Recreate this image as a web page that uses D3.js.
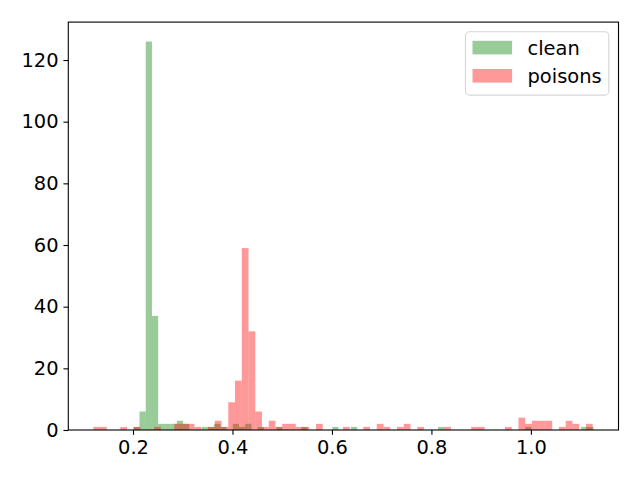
<!DOCTYPE html>
<html>
<head>
<meta charset="utf-8">
<script src="https://cdn.jsdelivr.net/npm/d3@7"></script>
<style>
  html, body { margin: 0; padding: 0; background: #fff; }
  svg { display: block; font-family: "DejaVu Sans", sans-serif; }
</style>
</head>
<body>
<svg id="chart" width="640" height="480"></svg>
<script>
// --- Données : deux histogrammes, chacun avec sa propre grille de bins ---
const seriesNames = ['clean', 'poisons']

const cleanStart = 0.2006
const cleanBinWidth = 0.012503
const cleanCounts = [
    1, 6, 126, 37, 2, 2, 2, 3, 2, 0,
    0, 1, 1, 2, 1, 0, 2, 1, 2, 0,
    1, 0, 0, 1, 0, 0, 0, 1, 0, 0,
    0, 0, 1, 0, 0, 1, 0, 0, 0, 0,
    0, 0, 0, 0, 0, 0, 0, 0, 0, 1,
    0, 0, 0, 0, 0, 0, 0, 0, 0, 0,
    0, 0, 0, 1, 0, 0, 0, 0, 0, 0,
    0, 0, 1, 1
]

const poisonStart = 0.1202
const poisonBinWidth = 0.013568
const poisonCounts = [
    1, 1, 0, 0, 1, 0, 1, 0, 0, 1,
    0, 0, 2, 2, 2, 1, 0, 1, 3, 1,
    9, 16, 59, 32, 6, 1, 3, 1, 2, 2,
    1, 1, 0, 2, 0, 0, 0, 1, 0, 0,
    1, 0, 2, 1, 0, 1, 2, 0, 1, 0,
    0, 0, 1, 0, 0, 0, 1, 1, 0, 0,
    0, 1, 0, 4, 2, 3, 3, 3, 0, 1,
    3, 2, 0, 2
]

const xTicks = [0.2, 0.4, 0.6, 0.8, 1.0]
const yTicks = [0, 20, 40, 60, 80, 100, 120]

// Construire les bins {x0, x1, count}
const toBins = (start, width, counts) =>
    counts.map((c, i) => ({ x0: start + i * width, x1: start + (i + 1) * width, count: c }))

const series = [
    { name: seriesNames[0], bins: toBins(cleanStart, cleanBinWidth, cleanCounts), color: 'green' },
    { name: seriesNames[1], bins: toBins(poisonStart, poisonBinWidth, poisonCounts), color: 'red' },
]

// --- Mise en page (style matplotlib, tight_layout) ---
const FONT = 19.44
const TICK = 4.86
const margin = { left: 68.3, right: 640 - 618.5, top: 22.1, bottom: 50 }
const plotW = 640 - margin.left - margin.right
const plotH = 480 - margin.top - margin.bottom

const svg = d3.select('#chart')

// Domaines avec 5% de marge comme matplotlib
const allBins = series.flatMap(s => s.bins)
const xMin = d3.min(allBins, d => d.x0)
const xMax = d3.max(allBins, d => d.x1)
const xPad = (xMax - xMin) * 0.05
const yMax = d3.max(allBins, d => d.count) * 1.05

const x = d3.scaleLinear().domain([xMin - xPad, xMax + xPad]).range([margin.left, margin.left + plotW])
const y = d3.scaleLinear().domain([0, yMax]).range([margin.top + plotH, margin.top])

// --- Barres ---
for (const s of series) {
    svg.append('g')
        .attr('class', `bars-${s.name}`)
        .selectAll('rect')
        .data(s.bins.filter(d => d.count > 0))
        .join('rect')
        .attr('x', d => x(d.x0))
        .attr('width', d => x(d.x1) - x(d.x0))
        .attr('y', d => y(d.count))
        .attr('height', d => y(0) - y(d.count))
        .attr('fill', s.color)
        .attr('fill-opacity', 0.4)
}

// --- Axes ---
const xAxis = svg.append('g')
    .attr('transform', `translate(0,${margin.top + plotH})`)
    .call(d3.axisBottom(x).tickValues(xTicks).tickFormat(d3.format('.1f')).tickSize(TICK).tickPadding(4.86))
const yAxis = svg.append('g')
    .attr('transform', `translate(${margin.left},0)`)
    .call(d3.axisLeft(y).tickValues(yTicks).tickFormat(d3.format('d')).tickSize(TICK).tickPadding(4.86))

for (const ax of [xAxis, yAxis]) {
    ax.select('.domain').remove()
    ax.selectAll('.tick line').attr('stroke', '#000').attr('stroke-width', 1.1)
    ax.selectAll('.tick text')
        .attr('fill', '#000')
        .attr('font-size', FONT)
        .attr('font-family', '"DejaVu Sans", sans-serif')
}
xAxis.selectAll('.tick text').attr('dy', '0.76em')

// Cadre (4 spines)
svg.append('rect')
    .attr('x', margin.left)
    .attr('y', margin.top)
    .attr('width', plotW)
    .attr('height', plotH)
    .attr('fill', 'none')
    .attr('stroke', '#000')
    .attr('stroke-width', 1.1)

// --- Légende (upper right) ---
const legendRight = margin.left + plotW - 9.7
const legendTop = margin.top + 9.7
const legendW = 143.3
const legendH = 63.3
const legend = svg.append('g')

legend.append('rect')
    .attr('x', legendRight - legendW)
    .attr('y', legendTop)
    .attr('width', legendW)
    .attr('height', legendH)
    .attr('rx', 3.9)
    .attr('fill', '#fff')
    .attr('fill-opacity', 0.8)
    .attr('stroke', '#d6d6d6')
    .attr('stroke-width', 1.1)

series.forEach((s, i) => {
    const cy = legendTop + 16 + i * 28.2
    legend.append('rect')
        .attr('x', legendRight - legendW + 7)
        .attr('y', cy - 7)
        .attr('width', 39.6)
        .attr('height', 13.6)
        .attr('fill', s.color)
        .attr('fill-opacity', 0.4)
    legend.append('text')
        .attr('x', legendRight - legendW + 62)
        .attr('y', cy)
        .attr('dy', '0.35em')
        .attr('font-size', FONT)
        .attr('fill', '#000')
        .text(s.name)
})
</script>
</body>
</html>
